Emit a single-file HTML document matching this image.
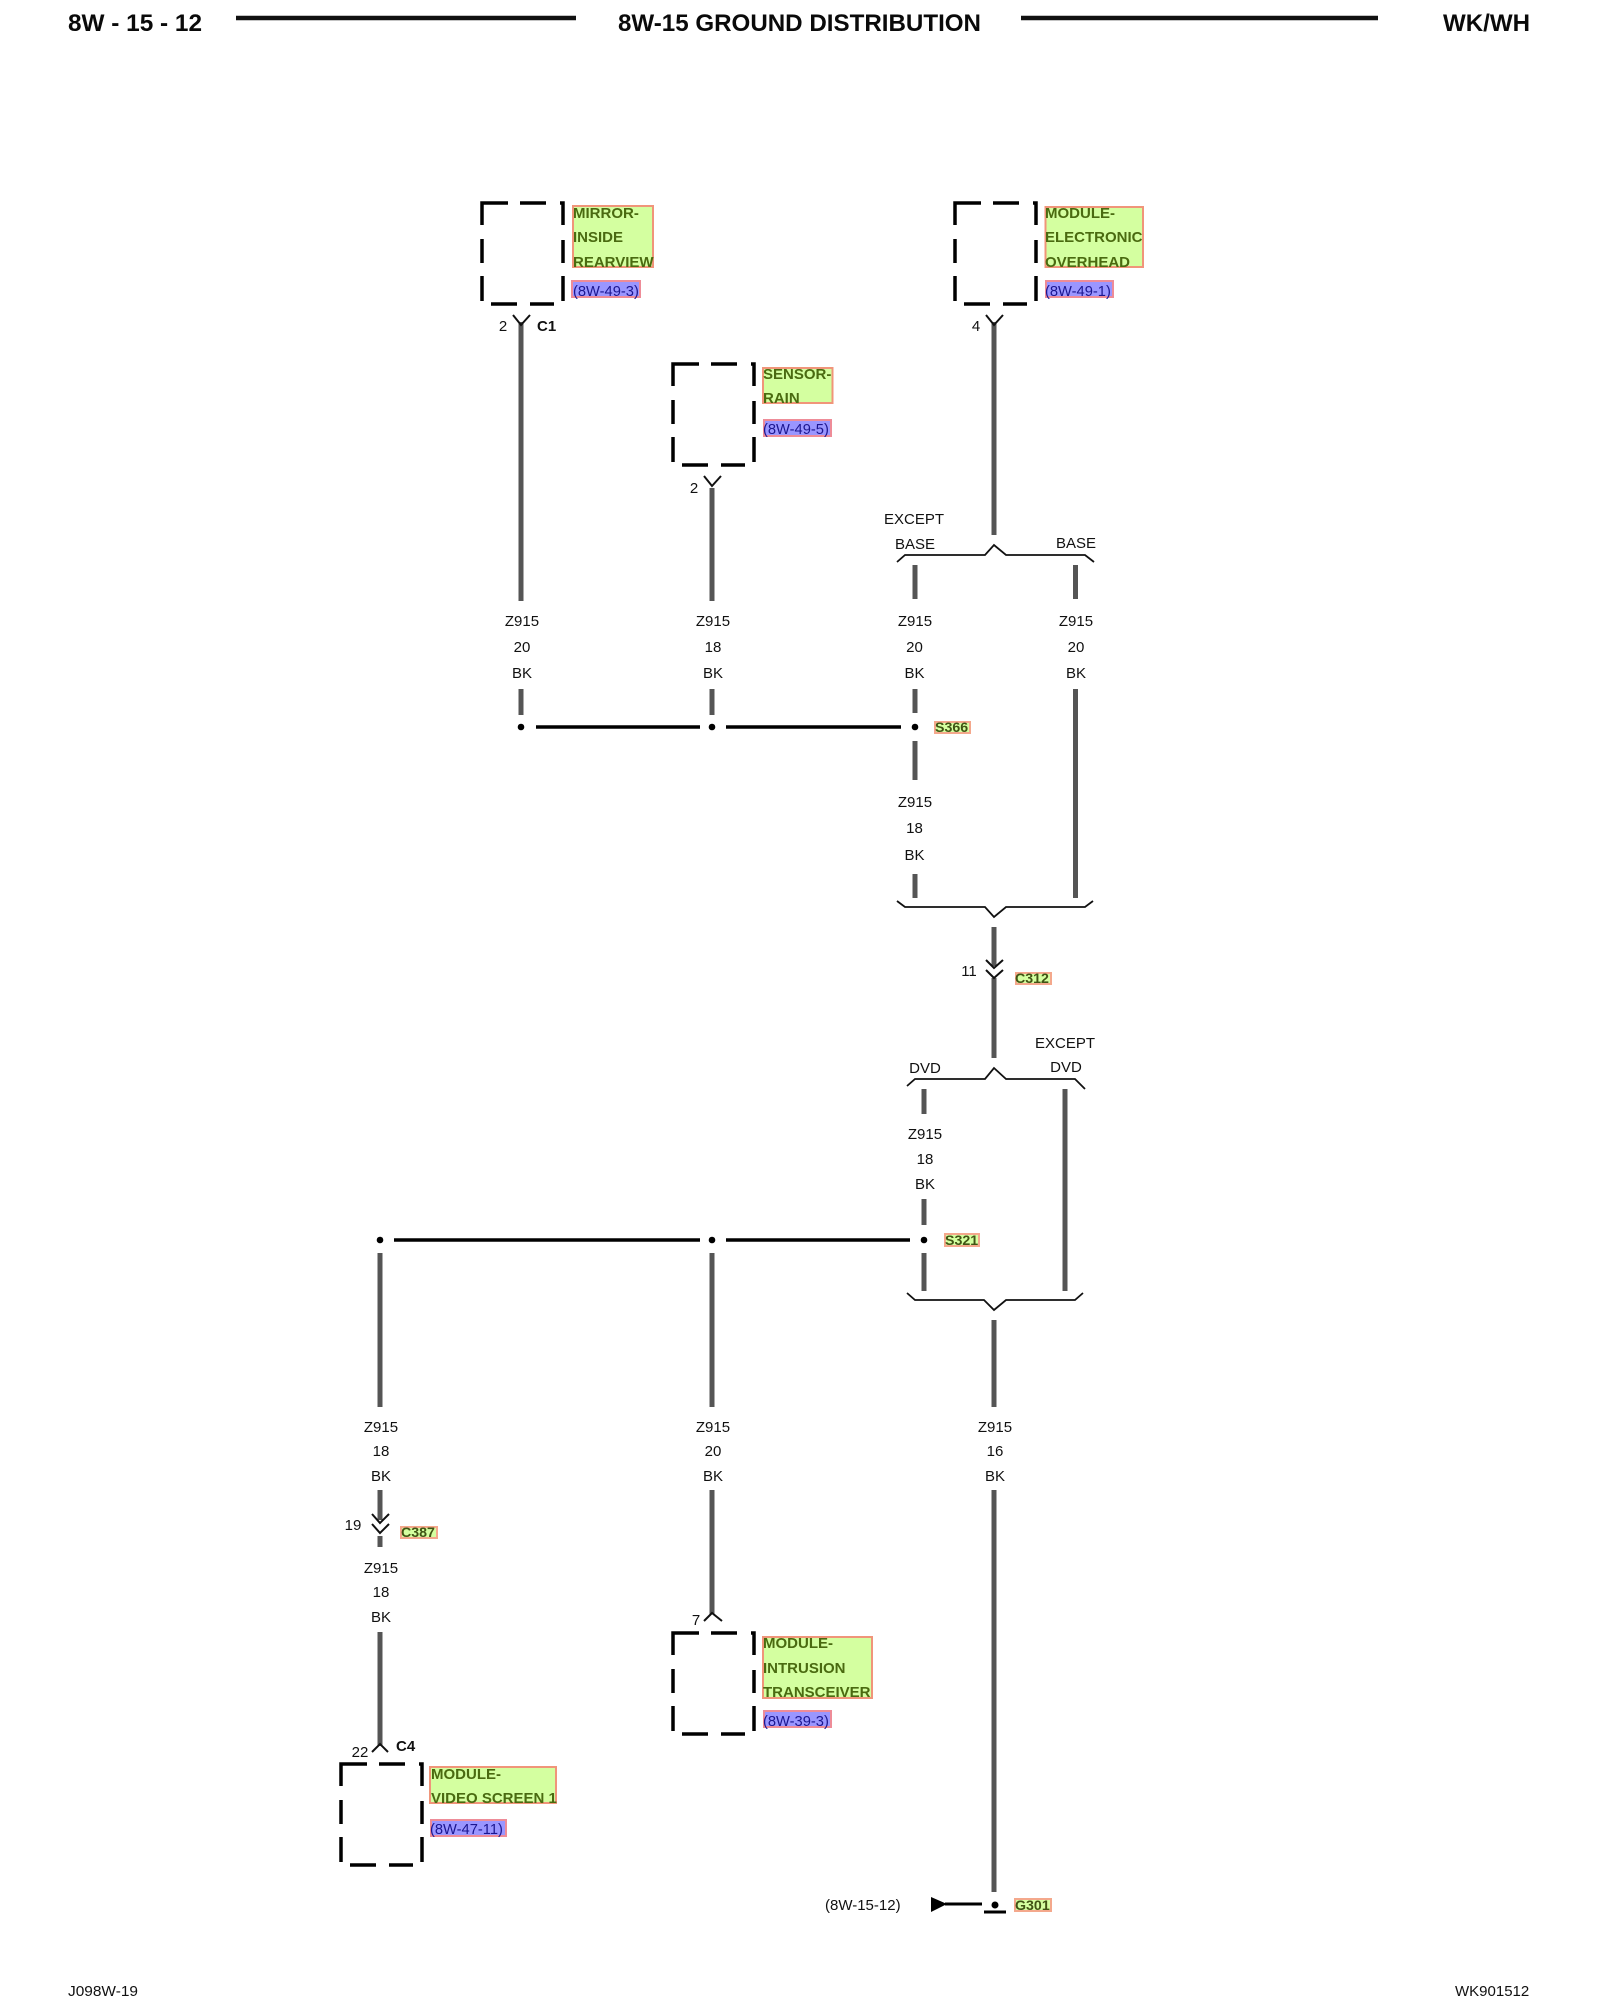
<!DOCTYPE html>
<html><head><meta charset="utf-8"><style>
html,body{margin:0;padding:0;background:#fff}
svg{display:block}
text{font-family:"Liberation Sans",sans-serif;font-size:15px;fill:#111}
.m{text-anchor:middle}
.h{font-weight:bold;font-size:24px;fill:#0a0a0a}
.w{stroke:#555;stroke-width:5;fill:none}
.k{stroke:#000;stroke-width:3.5;fill:none}
.t{stroke:#111;stroke-width:1.8;fill:none}
.c{stroke:#111;stroke-width:2;fill:none}
.g{fill:#d4ffa0;stroke:#f0957a;stroke-width:2}
.b{fill:#9a96ff;stroke:#ee8c98;stroke-width:2}
.s{fill:#d4ffa0;stroke:#f4a88c;stroke-width:2}
.gt{font-weight:bold;font-size:15px;fill:#4a6a10}
.bt{font-size:14.7px;fill:#1c1690}
.st{font-weight:bold;font-size:14.2px;fill:#405414}
.bd{font-weight:bold;font-size:15px}
</style></head><body>
<svg xmlns="http://www.w3.org/2000/svg" width="1600" height="2000" viewBox="0 0 1600 2000">
<defs>
<g id="box"><path d="M0 22V0H26M38 0H64M78 0H81V22M81 37V60M81 73V98M0 36V60M0 73V98M9 101H35M48 101H72" fill="none" stroke="#000" stroke-width="3.500"/></g>
</defs>
<rect width="1600" height="2000" fill="#fff"/>
<!-- header -->
<text class="h" x="68" y="31" textLength="134" lengthAdjust="spacingAndGlyphs">8W - 15 - 12</text>
<path d="M236 18H576M1021 18H1378" stroke="#111" stroke-width="4.500" fill="none"/>
<text class="h" x="618" y="31" textLength="363" lengthAdjust="spacingAndGlyphs">8W-15 GROUND DISTRIBUTION</text>
<text class="h" x="1443" y="31" textLength="87" lengthAdjust="spacingAndGlyphs">WK/WH</text>
<!-- footer -->
<text x="68" y="1996" textLength="70" lengthAdjust="spacingAndGlyphs">J098W-19</text>
<text x="1455" y="1996">WK901512</text>

<!-- boxes -->
<use href="#box" x="482" y="203"/>
<use href="#box" x="955" y="203"/>
<use href="#box" x="673" y="364"/>
<use href="#box" x="673" y="1633"/>
<use href="#box" x="341" y="1764"/>

<!-- wires -->
<path class="w" d="M521 322V601M521 689V715
M712 488V601M712 689V715
M994 322V535
M915 565V599M1075.500 565V599
M915 689V713M915 741V780M915 874V898
M1075.500 689V898
M994 927V966M994 978V1058
M924 1089V1114M924 1199V1225M924 1253V1291
M1065 1089V1291
M994 1320V1407M994 1490V1892
M380 1253V1407M380 1490V1520M380 1536V1547M380 1632V1746
M712 1253V1407M712 1490V1614"/>
<path class="k" d="M536 727H700M726 727H901M394 1240H700M726 1240H910"/>
<circle cx="521" cy="727" r="3.300"/><circle cx="712" cy="727" r="3.300"/><circle cx="915" cy="727" r="3.300"/>
<circle cx="380" cy="1240" r="3.300"/><circle cx="712" cy="1240" r="3.300"/><circle cx="924" cy="1240" r="3.300"/>

<!-- connector marks -->
<path class="c" d="M513 315L521 325L530 315M704 476L712 486L721 476M986 315L994 325L1003 315"/>
<path class="c" d="M704 1621L712 1613L722 1621M372 1752L380 1744L388 1752"/>
<path class="c" d="M986 960L994 968L1003 960M986 970L994 978L1003 970"/>
<path class="c" d="M372 1514L380 1523L389 1514M372 1524L380 1533L389 1524"/>

<!-- braces -->
<path class="t" d="M897 562L905 555H985L994 545L1006 555H1085L1094 562"/>
<path class="t" d="M897 901L905 907H985L994 917L1006 907H1085L1093 901"/>
<path class="t" d="M907 1086L915 1079H985L994 1068L1006 1079H1075L1085 1089"/>
<path class="t" d="M907 1293L915 1300H984L994 1310L1006 1300H1075L1083 1293"/>

<!-- ground -->
<path d="M931 1897L947 1904L931 1912Z" fill="#000"/>
<path d="M945 1904H982" stroke="#000" stroke-width="3"/>
<circle cx="995" cy="1905" r="3.500"/>
<path d="M984 1912H1006" stroke="#000" stroke-width="3"/>

<!-- wire text -->
<text class="m" x="522" y="626">Z915</text><text class="m" x="522" y="652">20</text><text class="m" x="522" y="678">BK</text>
<text class="m" x="713" y="626">Z915</text><text class="m" x="713" y="652">18</text><text class="m" x="713" y="678">BK</text>
<text class="m" x="915" y="626">Z915</text><text class="m" x="914.500" y="652">20</text><text class="m" x="914.500" y="678">BK</text>
<text class="m" x="1076" y="626">Z915</text><text class="m" x="1076" y="652">20</text><text class="m" x="1076" y="678">BK</text>
<text class="m" x="915" y="807">Z915</text><text class="m" x="914.500" y="833">18</text><text class="m" x="914.500" y="860">BK</text>
<text class="m" x="925" y="1139">Z915</text><text class="m" x="925" y="1164">18</text><text class="m" x="925" y="1189">BK</text>
<text class="m" x="381" y="1432">Z915</text><text class="m" x="381" y="1456">18</text><text class="m" x="381" y="1481">BK</text>
<text class="m" x="713" y="1432">Z915</text><text class="m" x="713" y="1456">20</text><text class="m" x="713" y="1481">BK</text>
<text class="m" x="995" y="1432">Z915</text><text class="m" x="995" y="1456">16</text><text class="m" x="995" y="1481">BK</text>
<text class="m" x="381" y="1573">Z915</text><text class="m" x="381" y="1597">18</text><text class="m" x="381" y="1622">BK</text>

<text class="m" x="914" y="524">EXCEPT</text><text class="m" x="915" y="549">BASE</text><text class="m" x="1076" y="548">BASE</text>
<text class="m" x="1065" y="1048">EXCEPT</text><text class="m" x="925" y="1073">DVD</text><text class="m" x="1066" y="1072">DVD</text>
<text class="m" x="503" y="331">2</text><text class="bd" x="537" y="331">C1</text>
<text class="m" x="976" y="331">4</text><text class="m" x="694" y="493">2</text>
<text class="m" x="969" y="976">11</text><text class="m" x="353" y="1530">19</text>
<text class="m" x="696" y="1625">7</text><text class="m" x="360" y="1757">22</text><text class="bd" x="396" y="1751">C4</text>
<text x="825" y="1910">(8W-15-12)</text>

<!-- green labels -->
<rect class="g" x="573" y="206" width="80" height="61"/>
<text class="gt" x="573" y="218">MIRROR-</text><text class="gt" x="573" y="242">INSIDE</text><text class="gt" x="573" y="267">REARVIEW</text>
<rect class="b" x="572" y="281" width="68" height="16"/><text class="bt" x="573" y="296">(8W-49-3)</text>

<rect class="g" x="1045.500" y="207" width="97.500" height="60"/>
<text class="gt" x="1045" y="218">MODULE-</text><text class="gt" x="1045" y="242">ELECTRONIC</text><text class="gt" x="1045" y="267">OVERHEAD</text>
<rect class="b" x="1046" y="281" width="67" height="16"/><text class="bt" x="1045" y="296">(8W-49-1)</text>

<rect class="g" x="763" y="368" width="69.500" height="35"/>
<text class="gt" x="763" y="379">SENSOR-</text><text class="gt" x="763" y="403">RAIN</text>
<rect class="b" x="764" y="420" width="67" height="16"/><text class="bt" x="763" y="434">(8W-49-5)</text>

<rect class="g" x="763" y="1637" width="109" height="61"/>
<text class="gt" x="763" y="1648">MODULE-</text><text class="gt" x="763" y="1673">INTRUSION</text><text class="gt" x="763" y="1697">TRANSCEIVER</text>
<rect class="b" x="764" y="1711" width="67" height="16"/><text class="bt" x="763" y="1726">(8W-39-3)</text>

<rect class="g" x="430" y="1767" width="126" height="36"/>
<text class="gt" x="431" y="1779">MODULE-</text><text class="gt" x="431" y="1803">VIDEO SCREEN 1</text>
<rect class="b" x="431" y="1820" width="75" height="16"/><text class="bt" x="430" y="1834">(8W-47-11)</text>

<!-- small labels -->
<rect class="s" x="935" y="722" width="35" height="11"/><text class="st" x="935" y="732">S366</text>
<rect class="s" x="945" y="1234" width="34" height="12"/><text class="st" x="945" y="1245">S321</text>
<rect class="s" x="1016" y="973" width="35" height="11"/><text class="st" x="1015" y="983">C312</text>
<rect class="s" x="401" y="1527" width="36" height="11"/><text class="st" x="401" y="1537">C387</text>
<rect class="s" x="1015" y="1899" width="36" height="12"/><text class="st" x="1015" y="1910">G301</text>
</svg>
</body></html>
